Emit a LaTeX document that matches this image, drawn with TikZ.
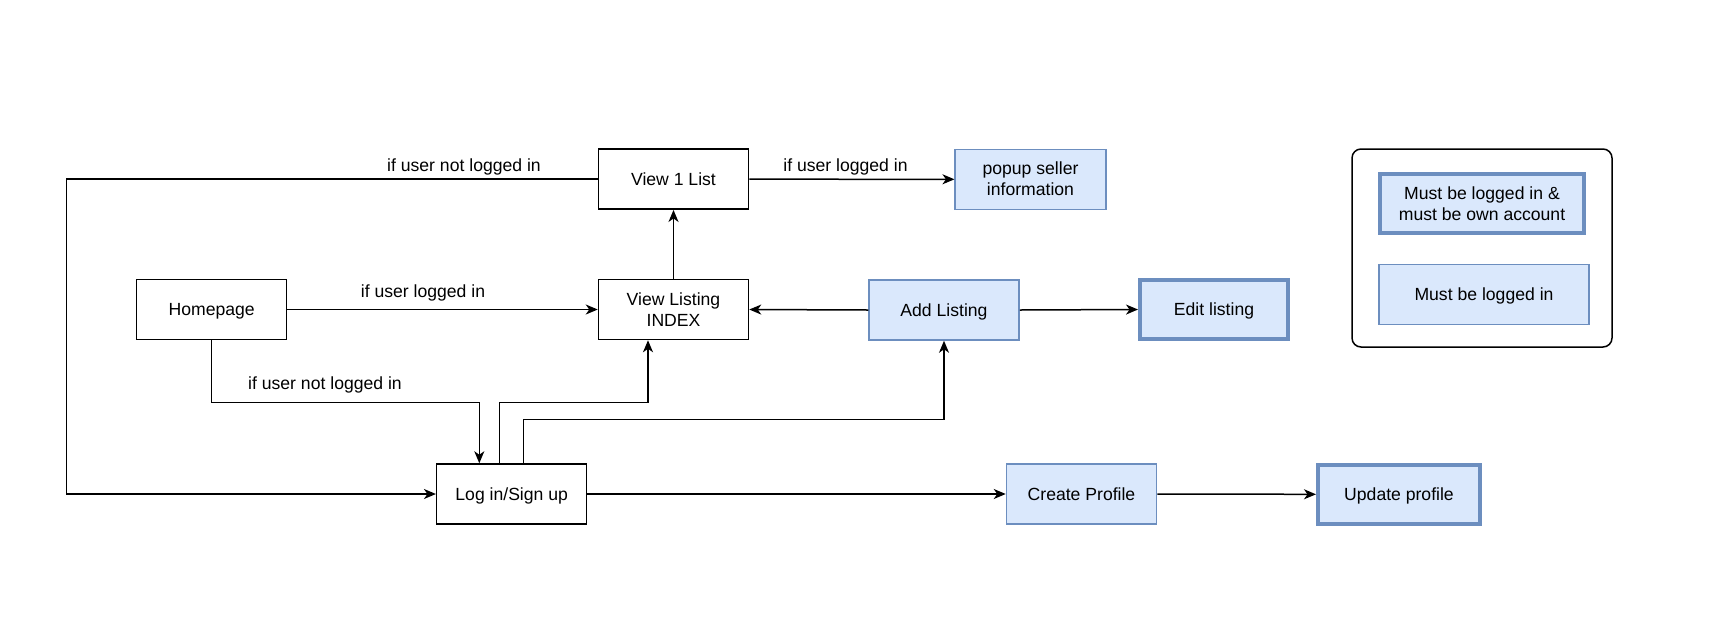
\documentclass[tikz,border=0pt]{standalone}
\usepackage{fontspec}
\setmainfont{Liberation Sans}
\usetikzlibrary{arrows.meta}
\definecolor{bfill}{HTML}{DAE8FC}
\definecolor{bline}{HTML}{6C8EBF}
\newcommand{\ts}{\rule[-0.212em]{0pt}{1.117em}}
\tikzset{
  base/.style={minimum width=150pt, minimum height=60pt, inner sep=2pt, align=center,
    font=\fontsize{17.6}{21}\selectfont},
  plain/.style={base, draw=black, line width=1.5pt},
  blue/.style={base, draw=bline, fill=bfill, line width=1.5pt},
  bluethick/.style={base, draw=bline, fill=bfill, line width=4pt},
  lbl/.style={font=\fontsize{17.6}{21}\selectfont, inner sep=0pt},
  conn/.style={line width=1.5pt, -{Stealth[length=12pt,width=10pt,inset=3.5pt]}},
}
\begin{document}
\begin{tikzpicture}[x=1pt,y=-1pt]
\useasboundingbox (0,0) rectangle (1726,630);
% legend
\node[draw=black, line width=1.5pt, rounded corners=9pt, minimum width=260pt, minimum height=198pt] (legend) at (1482,248) {};
\node[bluethick, minimum width=204pt, minimum height=59pt] (leg1) at (1482,203.5) {\ts Must be logged in \&\\\ts must be own account};
\node[blue, minimum width=210pt] (leg2) at (1484,294.7) {\ts Must be logged in};
% nodes
\node[plain] (view1) at (673.5,179.2) {\ts View 1 List};
\node[plain] (index) at (673.5,309.5) {\ts View Listing\\\ts INDEX};
\node[plain] (home) at (211.7,309.5) {\ts Homepage};
\node[blue, minimum width=150.6pt] (popup) at (1030.5,179.3) {\ts popup seller\\\ts information};
\node[blue] (add) at (944,310) {\ts Add Listing};
\node[bluethick, minimum width=148pt, minimum height=59pt] (edit) at (1214,309.5) {\ts Edit listing};
\node[plain] (login) at (511.7,494) {\ts Log in/Sign up};
\node[blue] (create) at (1081.5,494) {\ts Create Profile};
\node[bluethick, minimum width=162pt, minimum height=59pt] (update) at (1399,494.3) {\ts Update profile};
% coordinates
\coordinate (c1) at (66.5,179.2);
\coordinate (c2) at (66.5,494);
\coordinate (h1) at (211.7,402.3);
\coordinate (h2) at (479.3,402.3);
\coordinate (i1) at (499.4,402.3);
\coordinate (i2) at (648,402.3);
\coordinate (a1) at (523.5,419.3);
\coordinate (a2) at (944,419.3);
% connectors
\draw[conn] (view1.west) -- (c1) -- (c2) -- (login.west);
\draw[conn] (view1.east) -- (popup.west);
\draw[conn] (index.north) -- (view1.south);
\draw[conn] (home.east) -- (index.west);
\draw[conn] (home.south) -- (h1) -- (h2) -- (h2 |- login.north);
\draw[conn] (i1 |- login.north) -- (i1) -- (i2) -- (i2 |- index.south);
\draw[conn] (a1 |- login.north) -- (a1) -- (a2) -- (add.south);
\draw[conn] (add.west) -- (index.east);
\draw[conn] (add.east) -- (edit.west);
\draw[conn] (login.east) -- (create.west);
\draw[conn] (create.east) -- (update.west);
% labels
\node[lbl] (l1) at (464,165) {\ts if user not logged in};
\node[lbl] (l2) at (845.5,165) {\ts if user logged in};
\node[lbl] (l3) at (423,291.7) {\ts if user logged in};
\node[lbl] (l4) at (325,383) {\ts if user not logged in};
\end{tikzpicture}
\end{document}
